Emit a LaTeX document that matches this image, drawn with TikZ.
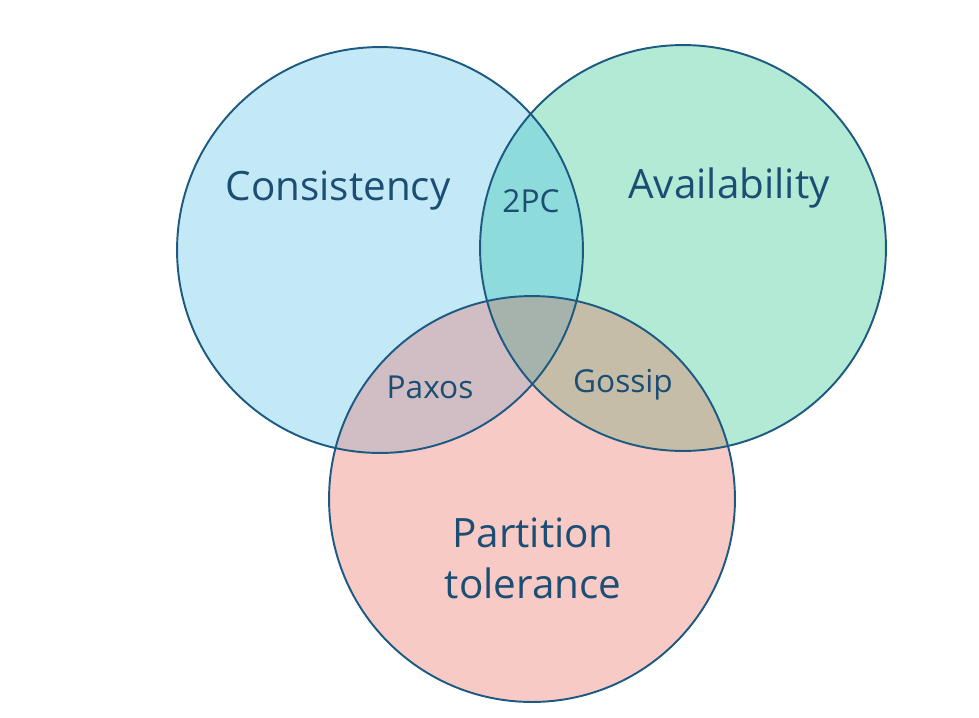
\documentclass[tikz,border=0pt]{standalone}
\usepackage{fontspec}
\setmainfont{Open Sans}
\usepackage{tikz}
\usetikzlibrary{positioning}

\definecolor{capC}{HTML}{C3E9F7}
\definecolor{capA}{HTML}{B2EAD6}
\definecolor{capP}{HTML}{F8CAC6}
\definecolor{capCA}{HTML}{8DDBDB}
\definecolor{capCP}{HTML}{D1BDC4}
\definecolor{capAP}{HTML}{C5BDA8}
\definecolor{capAll}{HTML}{A6B2AC}
\definecolor{rimcol}{HTML}{1D5A82}
\definecolor{txtcol}{HTML}{1C4E73}

\begin{document}
\begin{tikzpicture}[
  x=0.02cm, y=-0.02cm,
  setlbl/.style  = {text=txtcol, font=\fontsize{23}{29}\selectfont, align=center},
  pairlbl/.style = {text=txtcol, font=\fontsize{18}{22}\selectfont},
  rim/.style     = {draw=rimcol, line width=1.1pt},
]
\useasboundingbox (0,0) rectangle (979,717);

%% centres of the three sets
\coordinate (cC) at (380, 250);
\coordinate (cA) at (683, 248);
\coordinate (cP) at (532, 499);
\def\rad{4.06cm}

%% ── fills ──
\fill[capC] (cC) circle[radius=\rad];
\fill[capA] (cA) circle[radius=\rad];
\fill[capP] (cP) circle[radius=\rad];

%% pairwise overlaps
\begin{scope}
  \clip (cC) circle[radius=\rad];
  \fill[capCA] (cA) circle[radius=\rad];
  \fill[capCP] (cP) circle[radius=\rad];
\end{scope}
\begin{scope}
  \clip (cA) circle[radius=\rad];
  \fill[capAP] (cP) circle[radius=\rad];
\end{scope}
\begin{scope}
  \clip (cC) circle[radius=\rad];
  \clip (cA) circle[radius=\rad];
  \fill[capAll] (cP) circle[radius=\rad];
\end{scope}

%% ── outlines ──
\draw[rim] (cC) circle[radius=\rad];
\draw[rim] (cA) circle[radius=\rad];
\draw[rim] (cP) circle[radius=\rad];

%% ── labels ──
\node[setlbl]  (cons)   at (338, 191) {Consistency};
\node[setlbl]  (avail)  at (729, 188) {Availability};
\node[setlbl]  (part)   at (533, 558) {Partition\\tolerance};
\node[pairlbl] (twopc)  at (531, 201) {2PC};
\node[pairlbl] (paxos)  at (430, 387) {Paxos};
\node[pairlbl] (gossip) at (623, 385) {Gossip};

\end{tikzpicture}
\end{document}
